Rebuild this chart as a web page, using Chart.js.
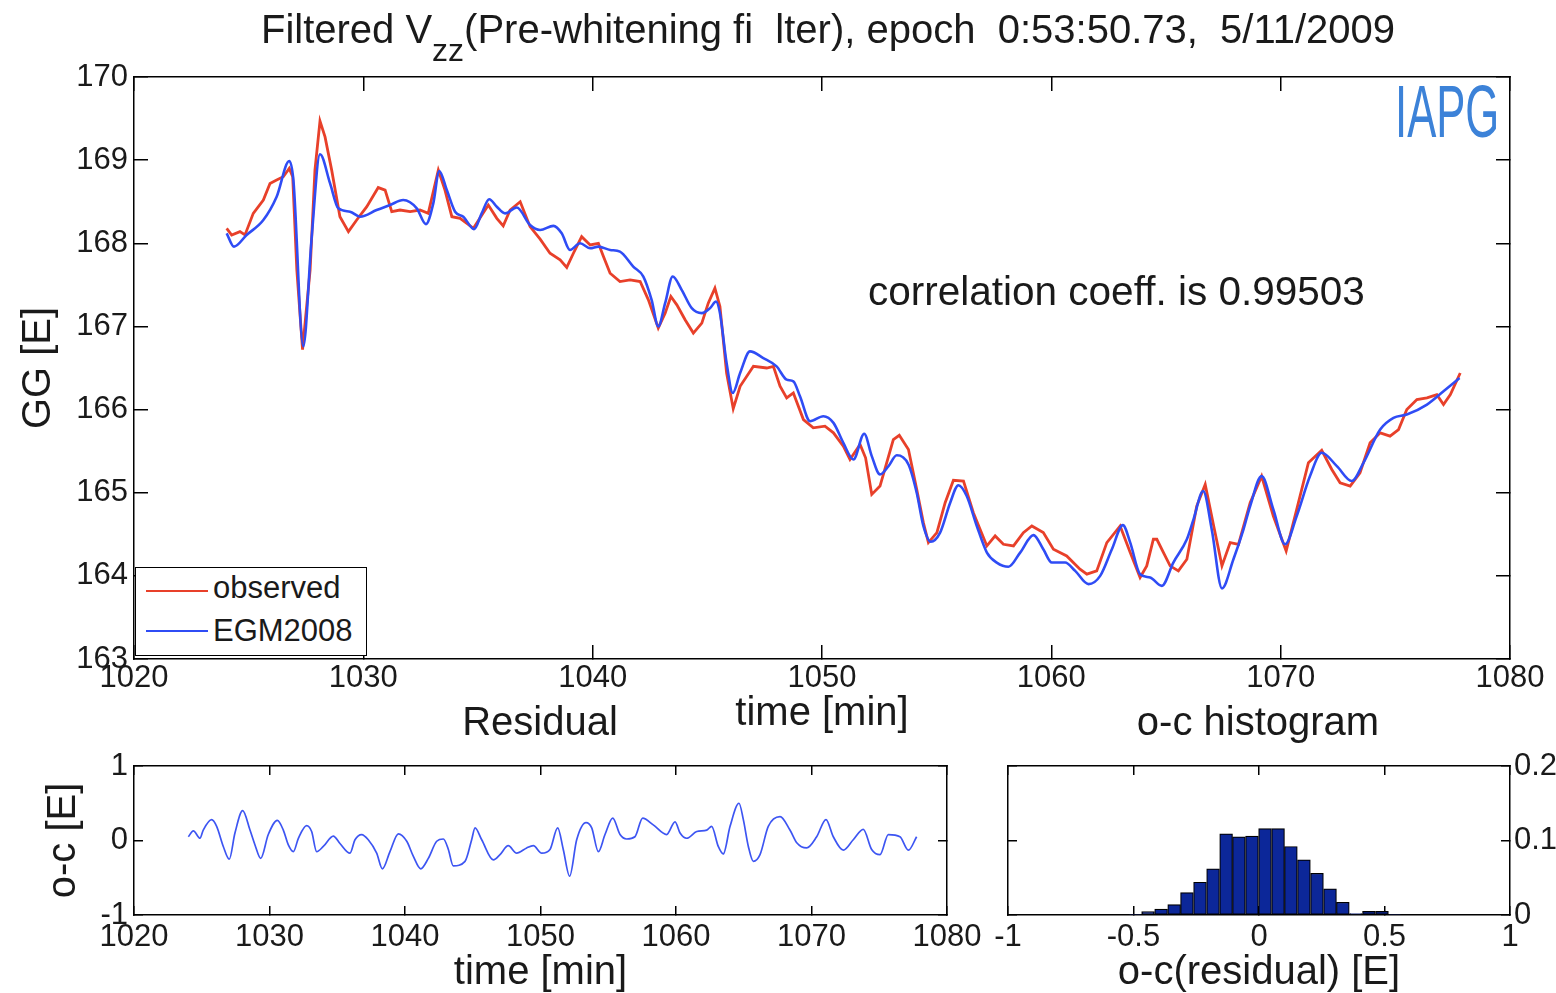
<!DOCTYPE html>
<html>
<head>
<meta charset="utf-8">
<script src="https://cdn.jsdelivr.net/npm/chart.js@4.4.0/dist/chart.umd.min.js"></script>
<style>
html,body{margin:0;padding:0;background:#fff;}
#wrap{position:relative;width:1556px;height:993px;overflow:hidden;font-family:"Liberation Sans",Arial,Helvetica,sans-serif;color:#1a1a1a;}
canvas{position:absolute;left:0;top:0;}
.t{position:absolute;white-space:nowrap;line-height:1;}
#legend{position:absolute;left:135px;top:567px;width:232px;height:89px;border:1.5px solid #000;background:#fff;box-sizing:border-box;}
#legend .ln{position:absolute;left:10px;width:62px;height:0;border-top:2.6px solid;}
#legend .lt{position:absolute;left:77px;font-size:31px;line-height:1;white-space:nowrap;}
</style>
</head>
<body>
<div id="wrap">
<canvas id="cMain" width="1556" height="993"></canvas>
<canvas id="cRes" width="1556" height="993"></canvas>
<canvas id="cHist" width="1556" height="993"></canvas>

<div class="t" id="title" style="left:828px;top:9px;font-size:40px;transform:translateX(-50%);">Filtered V<span style="font-size:32px;position:relative;top:18px;">zz</span>(Pre-whitening fi&nbsp; lter), epoch &nbsp;0:53:50.73, &nbsp;5/11/2009</div>
<div class="t" style="left:868px;top:271px;font-size:40.5px;">correlation coeff. is 0.99503</div>
<div class="t" style="left:1395px;top:75px;font-size:74px;color:#3c82d8;transform:scaleX(0.59);transform-origin:0 0;">IAPG</div>
<div class="t" style="left:540px;top:701px;font-size:40px;transform:translateX(-50%);">Residual</div>
<div class="t" style="left:1258px;top:701px;font-size:40px;transform:translateX(-50%);">o-c histogram</div>

<div id="legend">
  <div class="ln" style="top:22px;border-color:#e8402a;"></div>
  <div class="lt" style="top:4px;">observed</div>
  <div class="ln" style="top:62px;border-color:#2f4cf5;"></div>
  <div class="lt" style="top:47px;">EGM2008</div>
</div>
</div>

<script>
// ---------------- data ----------------
const timeTicks = [1020, 1030, 1040, 1050, 1060, 1070, 1080];
const ggTicks = [163, 164, 165, 166, 167, 168, 169, 170];
const resTicks = [-1, 0, 1];
const histXTicks = [-1, -0.5, 0, 0.5, 1];
const histYTicks = [0, 0.1, 0.2];

const obsTime = [1024.04,1024.26,1024.62,1024.84,1025.20,1025.64,1025.93,1026.22,1026.51,1026.77,1026.92,1027.10,1027.35,1027.68,1027.89,1028.11,1028.33,1028.62,1028.98,1029.35,1029.71,1030.15,1030.65,1030.95,1031.24,1031.60,1032.04,1032.47,1032.83,1033.27,1033.56,1033.86,1034.22,1034.80,1035.45,1035.82,1036.10,1036.40,1036.84,1037.27,1037.71,1038.14,1038.58,1038.87,1039.16,1039.52,1039.89,1040.25,1040.47,1040.76,1041.19,1041.63,1042.07,1042.43,1042.86,1043.16,1043.41,1043.67,1044.03,1044.39,1044.76,1045.04,1045.33,1045.55,1045.84,1046.13,1046.43,1047.01,1047.59,1047.88,1048.17,1048.46,1048.75,1049.19,1049.62,1050.13,1050.50,1050.93,1051.22,1051.66,1051.90,1052.17,1052.53,1052.82,1053.11,1053.37,1053.77,1054.13,1054.42,1054.64,1055.01,1055.37,1055.73,1056.17,1056.60,1057.19,1057.55,1057.91,1058.35,1058.78,1059.15,1059.65,1060.09,1060.67,1061.25,1061.55,1061.98,1062.42,1063.00,1063.44,1063.87,1064.16,1064.45,1064.60,1064.89,1065.18,1065.54,1065.91,1066.34,1066.71,1067.08,1067.44,1067.80,1068.16,1068.67,1069.17,1069.68,1070.24,1070.70,1071.21,1071.79,1072.23,1072.59,1073.03,1073.46,1073.90,1074.34,1074.77,1075.14,1075.50,1075.94,1076.38,1076.81,1077.10,1077.40,1077.83];
const obsVal = [168.18,168.10,168.14,168.10,168.36,168.52,168.72,168.76,168.80,168.90,168.80,167.68,166.72,167.68,168.88,169.47,169.28,168.88,168.32,168.14,168.28,168.44,168.67,168.64,168.38,168.40,168.38,168.40,168.36,168.88,168.64,168.32,168.30,168.18,168.46,168.30,168.21,168.40,168.50,168.20,168.05,167.88,167.80,167.71,167.88,168.08,167.98,168.00,167.84,167.64,167.54,167.56,167.54,167.32,166.98,167.16,167.36,167.26,167.08,166.92,167.04,167.28,167.46,167.24,166.44,166.01,166.28,166.52,166.50,166.52,166.28,166.14,166.20,165.88,165.78,165.80,165.72,165.56,165.40,165.58,165.42,164.98,165.08,165.36,165.64,165.69,165.52,165.04,164.64,164.40,164.52,164.88,165.15,165.14,164.76,164.36,164.48,164.38,164.36,164.52,164.60,164.52,164.32,164.24,164.08,164.02,164.06,164.40,164.60,164.28,163.98,164.12,164.44,164.44,164.28,164.12,164.06,164.20,164.84,165.10,164.60,164.12,164.40,164.38,164.88,165.20,164.72,164.30,164.80,165.36,165.51,165.28,165.12,165.08,165.24,165.60,165.72,165.68,165.76,166.00,166.12,166.14,166.18,166.06,166.18,166.44];

const egmTime = [1024.04,1024.36,1024.91,1025.64,1026.22,1026.77,1026.95,1027.38,1027.75,1028.11,1028.55,1028.91,1029.42,1029.86,1030.58,1031.16,1031.74,1032.33,1032.73,1033.05,1033.31,1033.64,1034.00,1034.36,1034.83,1035.16,1035.49,1035.82,1036.18,1036.69,1037.27,1037.71,1038.29,1038.65,1039.01,1039.45,1039.89,1040.25,1040.76,1041.19,1041.77,1042.21,1042.57,1042.86,1043.16,1043.49,1043.88,1044.32,1044.76,1045.12,1045.38,1045.55,1045.84,1046.11,1046.43,1046.86,1047.44,1048.02,1048.46,1048.75,1049.04,1049.48,1050.06,1050.50,1050.93,1051.37,1051.84,1052.17,1052.53,1052.90,1053.26,1053.77,1054.13,1054.42,1054.74,1055.15,1055.59,1055.95,1056.31,1056.75,1057.19,1057.62,1058.13,1058.64,1059.22,1059.65,1060.02,1060.60,1061.04,1061.62,1062.13,1062.64,1063.12,1063.44,1063.87,1064.31,1064.82,1065.32,1065.91,1066.20,1066.62,1067.00,1067.44,1067.94,1068.38,1068.67,1069.17,1069.68,1070.19,1070.70,1071.28,1071.79,1072.45,1073.10,1073.61,1074.34,1074.92,1075.50,1076.38,1077.10,1077.80];
const egmVal = [168.12,167.96,168.10,168.28,168.56,168.99,168.76,166.76,168.08,169.07,168.72,168.42,168.38,168.32,168.40,168.46,168.52,168.42,168.23,168.48,168.87,168.64,168.38,168.32,168.17,168.36,168.53,168.44,168.36,168.43,168.22,168.16,168.21,168.12,167.92,168.00,167.94,167.96,167.92,167.90,167.72,167.60,167.32,167.00,167.28,167.60,167.44,167.22,167.16,167.22,167.30,167.16,166.56,166.20,166.44,166.70,166.62,166.52,166.36,166.34,166.16,165.86,165.92,165.84,165.60,165.40,165.71,165.44,165.22,165.32,165.45,165.34,165.00,164.60,164.41,164.52,164.88,165.09,164.96,164.60,164.28,164.16,164.11,164.28,164.49,164.32,164.16,164.16,164.06,163.90,164.00,164.32,164.61,164.40,164.02,163.98,163.88,164.16,164.44,164.68,165.02,164.55,163.85,164.20,164.56,164.84,165.20,164.80,164.38,164.72,165.20,165.48,165.32,165.14,165.36,165.76,165.90,165.94,166.06,166.22,166.38];

const resTime = [1024.01,1024.38,1024.87,1025.11,1025.73,1026.10,1026.59,1027.03,1027.45,1028.02,1028.56,1028.93,1029.35,1029.91,1030.58,1031.02,1031.39,1031.76,1032.13,1032.74,1033.11,1033.48,1033.97,1034.71,1035.20,1035.94,1036.31,1036.80,1037.29,1037.91,1038.33,1038.89,1039.51,1040.13,1040.61,1041.16,1041.72,1042.34,1042.83,1043.20,1043.56,1044.43,1044.92,1045.17,1045.66,1046.52,1047.01,1047.62,1048.24,1048.98,1049.47,1050.09,1050.70,1051.27,1051.68,1052.15,1052.67,1053.36,1053.78,1054.27,1054.76,1055.33,1055.87,1056.36,1056.97,1057.54,1058.32,1059.31,1059.93,1060.30,1060.79,1061.53,1062.27,1062.63,1063.12,1063.49,1063.99,1064.65,1064.97,1065.34,1065.71,1066.20,1066.81,1067.68,1068.41,1068.91,1069.64,1070.38,1071.07,1071.61,1072.35,1073.08,1073.82,1074.44,1075.06,1075.67,1076.53,1077.15,1077.76];
const resVal = [0.05,0.13,0.03,0.14,0.28,0.19,-0.08,-0.25,0.10,0.40,0.14,-0.06,-0.24,0.08,0.27,0.14,-0.06,-0.15,0.03,0.20,0.12,-0.15,-0.08,0.06,-0.04,-0.17,0.01,0.08,0.01,-0.17,-0.38,-0.15,0.09,-0.01,-0.21,-0.38,-0.24,-0.01,0.02,-0.12,-0.34,-0.28,0.01,0.17,0.01,-0.26,-0.19,-0.07,-0.17,-0.10,-0.07,-0.17,-0.12,0.17,-0.12,-0.48,0.01,0.24,0.17,-0.15,0.08,0.30,0.08,0.02,0.05,0.30,0.21,0.08,0.25,0.10,0.03,0.12,0.14,0.19,-0.08,-0.18,0.19,0.50,0.28,-0.08,-0.28,-0.19,0.19,0.32,0.14,-0.03,-0.10,0.05,0.28,0.05,-0.13,0.01,0.15,-0.12,-0.19,0.08,0.05,-0.13,0.05];

const histBin = [-0.494,-0.442,-0.390,-0.338,-0.287,-0.235,-0.183,-0.131,-0.080,-0.028,0.024,0.076,0.127,0.179,0.231,0.283,0.334,0.386,0.438,0.490,0.541];
const histFreq = [0.001,0.0045,0.008,0.014,0.030,0.044,0.062,0.109,0.105,0.106,0.116,0.116,0.092,0.074,0.056,0.035,0.017,0.002,0.005,0.005,0.001];

// ---------------- styles ----------------
const RED = '#e8402a';
const BLUE = '#2f4cf5';
const RESBLUE = '#3d55f2';
const BARFILL = '#0c2799';
const INK = '#1a1a1a';

Chart.defaults.font.family = '"Liberation Sans", Arial, Helvetica, sans-serif';
Chart.defaults.color = INK;
Chart.defaults.animation = false;

const xy = (xs, ys) => xs.map((x, i) => ({x: x, y: ys[i]}));
const useTicks = arr => s => { s.ticks = arr.map(v => ({value: v})); };
const lbl = v => String(v);

function axis(opts) {
  const isX = opts.axis === 'x';
  const cfg = {
    type: 'linear', axis: opts.axis, position: opts.position,
    min: opts.min, max: opts.max, offset: false,
    afterBuildTicks: useTicks(opts.tickArr),
    afterFit: s => {
      if (isX) s.height = opts.size; else s.width = opts.size;
      s.paddingLeft = 0; s.paddingRight = 0; s.paddingTop = 0; s.paddingBottom = 0;
    },
    ticks: {display: !!opts.labels, callback: lbl, autoSkip: false, maxRotation: 0,
            font: {size: opts.fontSize || 31}, padding: opts.pad || 0, color: INK},
    grid: {drawOnChartArea: false, drawTicks: true, tickLength: opts.tl, color: '#000', lineWidth: 1.5, offset: false},
    border: {display: true, color: '#000', width: 1.5}
  };
  if (opts.title) cfg.title = opts.title;
  return cfg;
}

const baseOpts = (padding, scales) => ({
  responsive: false, animation: false,
  layout: {padding: padding},
  plugins: {legend: {display: false}, tooltip: {enabled: false}, title: {display: false}},
  scales: scales,
  events: []
});

// ---------------- main chart ----------------
new Chart(document.getElementById('cMain'), {
  type: 'line',
  data: {datasets: [
    {label: 'observed', data: xy(obsTime, obsVal), borderColor: RED, borderWidth: 2.8, pointRadius: 0, tension: 0, order: 1},
    {label: 'EGM2008', data: xy(egmTime, egmVal), borderColor: BLUE, borderWidth: 2.6, pointRadius: 0, cubicInterpolationMode: 'monotone', order: 0}
  ]},
  options: baseOpts({left: 0, top: 77, right: 46, bottom: 0}, {
    x: axis({axis: 'x', position: 'bottom', min: 1020, max: 1080, tickArr: timeTicks, tl: -14, size: 334, labels: true, pad: 15,
      title: {display: true, text: 'time [min]', font: {size: 40}, color: INK, padding: {top: 0, bottom: 255}}}),
    x2: axis({axis: 'x', position: 'top', min: 1020, max: 1080, tickArr: timeTicks, tl: -14, size: 0}),
    y: axis({axis: 'y', position: 'left', min: 163, max: 170, tickArr: ggTicks, tl: -14, size: 134, labels: true, pad: 20,
      title: {display: true, text: 'GG [E]', font: {size: 40}, color: INK, padding: {top: 15, bottom: 0}}}),
    y2: axis({axis: 'y', position: 'right', min: 163, max: 170, tickArr: ggTicks, tl: -14, size: 0})
  })
});

// ---------------- residual chart ----------------
new Chart(document.getElementById('cRes'), {
  type: 'line',
  data: {datasets: [
    {label: 'o-c', data: xy(resTime, resVal), borderColor: RESBLUE, borderWidth: 1.7, pointRadius: 0, cubicInterpolationMode: 'monotone'}
  ]},
  options: baseOpts({left: 0, top: 766, right: 609, bottom: 0}, {
    x: axis({axis: 'x', position: 'bottom', min: 1020, max: 1080, tickArr: timeTicks, tl: -9, size: 78, labels: true, pad: 13,
      title: {display: true, text: 'time [min]', font: {size: 40}, color: INK, padding: {top: 0, bottom: -4}}}),
    x2: axis({axis: 'x', position: 'top', min: 1020, max: 1080, tickArr: timeTicks, tl: -9, size: 0}),
    y: axis({axis: 'y', position: 'left', min: -1, max: 1, tickArr: resTicks, tl: -9, size: 134, labels: true, pad: 15,
      title: {display: true, text: 'o-c [E]', font: {size: 40}, color: INK, padding: {top: 40, bottom: 0}}}),
    y2: axis({axis: 'y', position: 'right', min: -1, max: 1, tickArr: resTicks, tl: -9, size: 0})
  })
});

// ---------------- histogram chart ----------------
new Chart(document.getElementById('cHist'), {
  type: 'bar',
  data: {datasets: [
    {label: 'o-c histogram', data: xy(histBin, histFreq), backgroundColor: BARFILL, borderColor: '#000', borderWidth: 1.2,
     borderSkipped: false, barPercentage: 1, categoryPercentage: 1, xAxisID: 'x', yAxisID: 'y'}
  ]},
  options: baseOpts({left: 1008, top: 766, right: 0, bottom: 0}, {
    x: axis({axis: 'x', position: 'bottom', min: -1, max: 1, tickArr: histXTicks, tl: -9, size: 78, labels: true, pad: 13,
      title: {display: true, text: 'o-c(residual) [E]', font: {size: 40}, color: INK, padding: {top: 0, bottom: -4}}}),
    x2: axis({axis: 'x', position: 'top', min: -1, max: 1, tickArr: histXTicks, tl: -9, size: 0}),
    y: axis({axis: 'y', position: 'right', min: 0, max: 0.2, tickArr: histYTicks, tl: -9, size: 46, labels: true, pad: 13}),
    y2: axis({axis: 'y', position: 'left', min: 0, max: 0.2, tickArr: histYTicks, tl: -9, size: 0})
  })
});
</script>
</body>
</html>
